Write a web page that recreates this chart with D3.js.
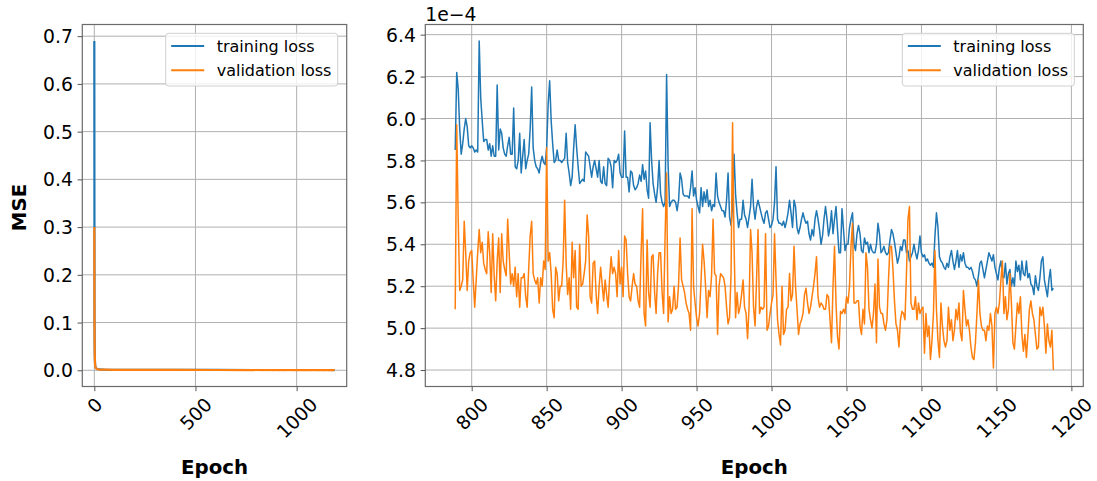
<!DOCTYPE html>
<html><head><meta charset="utf-8">
<script src="https://cdn.jsdelivr.net/npm/d3@7"></script>
<style>
body{margin:0;background:#fff;}
svg text{font-family:"DejaVu Sans",sans-serif;fill:#000;}
</style></head>
<body><svg id="chart" width="1097" height="481"></svg>
<script>
// ---------- DATA ----------
// Training / validation MSE for the last 400 epochs (789..1188), in units of 1e-4
const lateStartEpoch = 789;
const trainLate = [
5.85,6.22,6.14,5.95,5.83,5.88,5.95,6.00,5.96,5.87,
5.86,5.87,5.86,5.84,5.85,5.84,6.37,6.10,5.99,5.89,
5.90,5.90,5.85,5.88,5.82,5.87,5.82,5.82,6.16,5.85,
5.95,5.93,5.86,5.83,5.82,5.87,5.91,5.83,5.83,6.05,
5.77,5.76,5.80,5.93,5.74,5.82,5.90,5.76,5.80,5.83,
5.95,6.15,5.86,5.80,5.77,5.76,5.74,5.79,5.82,5.79,
5.78,5.86,6.07,6.18,5.99,5.88,5.79,5.80,5.85,5.80,
5.80,5.79,5.80,5.81,5.93,5.79,5.74,5.68,5.72,5.86,
5.97,5.86,5.77,5.69,5.70,5.71,5.70,5.84,5.83,5.82,
5.77,5.72,5.77,5.80,5.76,5.72,5.80,5.70,5.69,5.77,
5.69,5.68,5.81,5.80,5.77,5.67,5.80,5.79,5.80,5.83,
5.74,5.72,5.72,5.94,5.72,5.72,5.65,5.75,5.74,5.68,
5.66,5.67,5.69,5.73,5.70,5.78,5.71,5.75,5.66,5.62,
5.98,5.80,5.69,5.64,5.60,5.67,5.80,5.64,5.60,5.58,
5.60,6.21,5.78,5.58,5.60,5.61,5.61,5.60,5.56,5.61,
5.74,5.71,5.64,5.63,5.63,5.63,5.62,5.67,5.75,5.63,
5.67,5.61,5.58,5.55,5.67,5.58,5.65,5.60,5.66,5.58,
5.61,5.56,5.59,5.58,5.74,5.63,5.60,5.58,5.56,5.56,
5.53,5.61,5.74,5.53,5.49,5.58,5.83,5.64,5.55,5.48,
5.52,5.52,5.61,5.54,5.52,5.48,5.53,5.58,5.71,5.58,
5.52,5.58,5.61,5.58,5.55,5.52,5.50,5.55,5.56,5.52,
5.48,5.49,5.52,5.60,5.77,5.52,5.50,5.50,5.49,5.51,
5.48,5.51,5.55,5.61,5.55,5.48,5.61,5.58,5.48,5.45,
5.48,5.52,5.55,5.52,5.50,5.51,5.45,5.42,5.47,5.44,
5.52,5.56,5.52,5.47,5.40,5.44,5.52,5.58,5.52,5.44,
5.48,5.56,5.45,5.52,5.58,5.47,5.36,5.36,5.57,5.47,
5.37,5.40,5.40,5.48,5.52,5.55,5.40,5.37,5.45,5.49,
5.45,5.37,5.36,5.43,5.40,5.41,5.36,5.40,5.37,5.36,
5.36,5.40,5.50,5.45,5.36,5.37,5.39,5.36,5.35,5.36,
5.42,5.47,5.45,5.41,5.36,5.31,5.34,5.39,5.37,5.42,
5.42,5.36,5.37,5.32,5.34,5.36,5.40,5.36,5.33,5.37,
5.44,5.36,5.34,5.35,5.32,5.33,5.31,5.30,5.31,5.29,
5.44,5.55,5.48,5.34,5.32,5.31,5.29,5.28,5.31,5.29,
5.34,5.37,5.32,5.28,5.32,5.37,5.29,5.35,5.32,5.36,
5.31,5.29,5.29,5.28,5.29,5.27,5.24,5.23,5.20,5.25,
5.31,5.32,5.28,5.24,5.28,5.32,5.36,5.34,5.32,5.35,
5.29,5.26,5.23,5.29,5.32,5.25,5.24,5.31,5.21,5.26,
5.28,5.20,5.24,5.20,5.32,5.27,5.30,5.23,5.32,5.26,
5.25,5.32,5.24,5.26,5.21,5.20,5.16,5.25,5.20,5.18,
5.24,5.32,5.34,5.23,5.19,5.15,5.23,5.28,5.18,5.19
];
const valLate = [
5.09,5.97,5.52,5.18,5.20,5.23,5.51,5.36,5.18,5.32,
5.36,5.37,5.23,5.10,5.23,5.36,5.47,5.36,5.41,5.31,
5.28,5.26,5.46,5.36,5.17,5.45,5.25,5.13,5.32,5.43,
5.17,5.45,5.32,5.28,5.25,5.52,5.36,5.21,5.26,5.20,
5.29,5.15,5.26,5.10,5.24,5.24,5.26,5.15,5.10,5.28,
5.44,5.51,5.26,5.23,5.21,5.24,5.12,5.24,5.20,5.32,
5.28,5.86,5.32,5.36,5.26,5.09,5.05,5.29,5.26,5.13,
5.20,5.20,5.32,5.61,5.31,5.16,5.24,5.09,5.41,5.24,
5.37,5.10,5.09,5.40,5.20,5.21,5.26,5.32,5.54,5.44,
5.15,5.12,5.31,5.32,5.16,5.07,5.20,5.29,5.21,5.13,
5.23,5.16,5.10,5.24,5.34,5.26,5.29,5.26,5.15,5.37,
5.21,5.29,5.15,5.44,5.42,5.26,5.15,5.13,5.20,5.26,
5.21,5.20,5.13,5.10,5.36,5.57,5.07,5.01,5.42,5.17,
5.10,5.34,5.35,5.17,5.07,5.26,5.36,5.36,5.17,5.07,
5.44,5.74,5.03,5.15,5.07,5.09,5.20,5.09,5.10,5.21,
5.43,5.23,5.20,5.17,5.12,5.09,5.07,4.99,5.57,5.20,
5.12,5.05,5.01,5.07,5.23,5.40,5.32,5.20,5.05,5.18,
5.15,5.25,5.52,5.26,5.25,4.97,5.20,5.26,5.25,5.24,
5.20,5.10,5.02,5.05,5.26,5.98,5.40,5.05,5.17,5.07,
5.10,5.16,5.23,5.10,5.07,4.95,5.10,5.47,5.36,5.10,
5.01,5.23,5.47,5.07,5.10,5.09,5.10,5.45,4.99,5.01,
5.07,5.12,5.16,5.45,5.23,5.04,4.97,4.92,5.20,4.97,
4.99,5.09,5.10,5.26,5.13,5.16,5.39,5.20,5.09,4.97,
5.02,5.04,5.07,5.16,5.19,5.12,5.07,5.10,5.15,5.20,
5.26,5.34,5.15,5.10,5.12,5.11,5.09,5.09,5.16,5.15,
5.04,4.93,5.20,5.39,5.12,4.96,4.90,5.08,5.07,5.09,
5.07,5.15,5.12,5.20,5.39,5.50,5.12,5.12,5.13,5.13,
5.01,4.97,5.09,5.02,5.36,5.29,5.09,5.04,5.00,5.07,
5.21,4.93,5.33,5.10,5.07,5.07,5.02,4.99,5.04,5.23,
5.39,5.39,5.28,5.13,5.02,4.99,4.91,5.04,5.08,5.07,
5.04,5.26,5.52,5.58,5.12,5.09,5.09,5.15,5.04,5.12,
5.07,5.09,5.10,4.88,5.07,4.96,5.01,4.85,4.94,5.07,
5.37,5.09,4.94,4.86,5.12,5.01,4.94,4.91,4.94,5.10,
4.99,5.04,4.94,4.99,5.09,5.04,5.12,4.98,4.94,5.18,
5.09,5.01,5.04,4.99,4.91,4.86,4.85,4.93,5.07,5.23,
5.07,5.01,4.99,4.99,4.94,5.01,4.99,5.07,5.01,4.81,
5.07,5.10,5.07,5.12,5.23,5.32,5.07,5.15,5.04,5.09,
5.26,5.12,4.93,4.90,5.01,5.12,5.07,5.15,4.97,4.89,
4.97,4.86,4.97,5.09,5.13,5.07,5.04,4.97,4.90,4.91,
5.10,5.06,5.10,5.01,4.88,5.02,4.94,4.91,4.99,4.80
];
// Early epochs for the full-run panel (actual MSE)
const earlyEpochs = [0, 1, 2, 3, 4, 5, 6, 8, 10, 15, 20, 30, 50, 100, 200, 400, 600];
const earlyTrain  = [0.69, 0.11, 0.045, 0.022, 0.013, 0.009, 0.007, 0.005, 0.004, 0.0028, 0.0022, 0.0017, 0.0013, 0.0010, 0.0008, 0.0007, 0.00065];
const earlyVal    = [0.30, 0.085, 0.035, 0.018, 0.011, 0.008, 0.0062, 0.0046, 0.0037, 0.0026, 0.0020, 0.0015, 0.0012, 0.0009, 0.00075, 0.00065, 0.0006];

const seriesNames = ["training loss", "validation loss"];
const seriesColors = ["#1f77b4", "#ff7f0e"];
const leftXTicks = [0, 500, 1000];
const leftYTicks = [0.0, 0.1, 0.2, 0.3, 0.4, 0.5, 0.6, 0.7];
const rightXTicks = [800, 850, 900, 950, 1000, 1050, 1100, 1150, 1200];
const rightYTicks = [4.8, 5.0, 5.2, 5.4, 5.6, 5.8, 6.0, 6.2, 6.4];
const offsetLabel = "1e\u22124";
const xLabel = "Epoch";
const yLabel = "MSE";

// ---------- BUILD ----------
const lateEpochs = trainLate.map((_, i) => lateStartEpoch + i);
const fullTrain = earlyEpochs.map((e, i) => [e, earlyTrain[i]])
  .concat(lateEpochs.map((e, i) => [e, trainLate[i] * 1e-4]));
const fullVal = earlyEpochs.map((e, i) => [e, earlyVal[i]])
  .concat(lateEpochs.map((e, i) => [e, valLate[i] * 1e-4]));
const zoomTrain = lateEpochs.map((e, i) => [e, trainLate[i]]);
const zoomVal = lateEpochs.map((e, i) => [e, valLate[i]]);

const svg = d3.select("#chart");
svg.append("rect").attr("width", 1097).attr("height", 481).attr("fill", "#fff");

const TICK_FS = 18.8, LAB_FS = 19.8, LEG_FS = 16;
const TOP = 24.5, BOTTOM = 386.5;

function padDomain(vals) {
  const [a, b] = d3.extent(vals);
  const s = b - a;
  return [a - 0.05 * s, b + 0.05 * s];
}

function drawPanel(o) {
  const g = svg.append("g");
  const allPts = o.series.flat();
  const x = d3.scaleLinear().domain(padDomain(allPts.map(d => d[0]))).range([o.left, o.right]);
  const y = d3.scaleLinear().domain(padDomain(allPts.map(d => d[1]))).range([BOTTOM, TOP]);

  // grid
  const grid = g.append("g").attr("stroke", "#b0b0b0").attr("stroke-width", 1);
  o.xTicks.forEach(t => grid.append("line").attr("x1", x(t)).attr("x2", x(t)).attr("y1", TOP).attr("y2", BOTTOM));
  o.yTicks.forEach(t => grid.append("line").attr("x1", o.left).attr("x2", o.right).attr("y1", y(t)).attr("y2", y(t)));

  // lines
  const clipId = "clip" + o.id;
  svg.append("clipPath").attr("id", clipId).append("rect")
    .attr("x", o.left).attr("y", TOP).attr("width", o.right - o.left).attr("height", BOTTOM - TOP);
  const line = d3.line().x(d => x(d[0])).y(d => y(d[1]));
  o.series.forEach((s, i) => {
    g.append("path").datum(s).attr("d", line).attr("fill", "none")
      .attr("stroke", seriesColors[i]).attr("stroke-width", o.lw)
      .attr("stroke-linejoin", "round").attr("clip-path", `url(#${clipId})`);
  });

  // frame
  g.append("rect").attr("x", o.left).attr("y", TOP).attr("width", o.right - o.left).attr("height", BOTTOM - TOP)
    .attr("fill", "none").attr("stroke", "#6b6b6b").attr("stroke-width", 1.2);

  // y axis
  const ya = g.append("g").attr("transform", `translate(${o.left},0)`)
    .call(d3.axisLeft(y).tickValues(o.yTicks).tickSize(4.7).tickPadding(4.7).tickFormat(d3.format(".1f")));
  ya.select(".domain").remove();
  ya.selectAll(".tick line").attr("stroke", "#555").attr("stroke-width", 1);
  ya.selectAll(".tick text").attr("font-size", TICK_FS).attr("font-family", "DejaVu Sans")
    .attr("dy", "0.35em").attr("fill", "#000");

  // x axis
  const xa = g.append("g").attr("transform", `translate(0,${BOTTOM})`)
    .call(d3.axisBottom(x).tickValues(o.xTicks).tickSize(4.7).tickPadding(0).tickFormat(d3.format("d")));
  xa.select(".domain").remove();
  xa.selectAll(".tick line").attr("stroke", "#555").attr("stroke-width", 1);
  xa.selectAll(".tick text").attr("font-size", TICK_FS).attr("font-family", "DejaVu Sans").attr("fill", "#000")
    .attr("text-anchor", "middle").attr("dy", null).attr("y", 0)
    .attr("dominant-baseline", "central")
    .each(function() {
      const w = this.getComputedTextLength();
      const h = TICK_FS * 1.16;
      const half = (w + h) * Math.SQRT1_2 / 2;
      d3.select(this).attr("transform", `translate(0,${7 + half}) rotate(-45)`);
    });

  // x label
  g.append("text").attr("x", (o.left + o.right) / 2).attr("y", 473.5).attr("text-anchor", "middle")
    .attr("font-weight", "bold").attr("font-size", LAB_FS).text(xLabel);

  // legend
  const lw = 172, lh = 52.7;
  const lx = o.right - 9 - lw, ly = TOP + 8.8;
  const leg = g.append("g");
  leg.append("rect").attr("x", lx).attr("y", ly).attr("width", lw).attr("height", lh).attr("rx", 3)
    .attr("fill", "#fff").attr("fill-opacity", 0.8).attr("stroke", "#d0d0d0").attr("stroke-width", 1);
  seriesNames.forEach((name, i) => {
    const cy = ly + 12.8 + i * 24.2;
    leg.append("line").attr("x1", lx + 5.5).attr("x2", lx + 38.5).attr("y1", cy).attr("y2", cy)
      .attr("stroke", seriesColors[i]).attr("stroke-width", 2);
    leg.append("text").attr("x", lx + 51).attr("y", cy).attr("dy", "0.36em")
      .attr("font-size", LEG_FS).attr("fill", "#111").text(name);
  });
  return {x, y, g};
}

const L = drawPanel({id: "L", left: 82.3, right: 346.7, series: [fullTrain, fullVal], lw: 2.2,
  xTicks: leftXTicks, yTicks: leftYTicks});
const R = drawPanel({id: "R", left: 425.3, right: 1083.3, series: [zoomTrain, zoomVal], lw: 1.5,
  xTicks: rightXTicks, yTicks: rightYTicks});

// y label on left panel
svg.append("text").attr("transform", `translate(26,${(TOP + BOTTOM) / 2 + 2}) rotate(-90)`)
  .attr("text-anchor", "middle").attr("font-weight", "bold").attr("font-size", LAB_FS).text(yLabel);

// offset text on right panel
svg.append("text").attr("x", 425.3).attr("y", 21).attr("font-size", TICK_FS).text(offsetLabel);
</script>
</body></html>
